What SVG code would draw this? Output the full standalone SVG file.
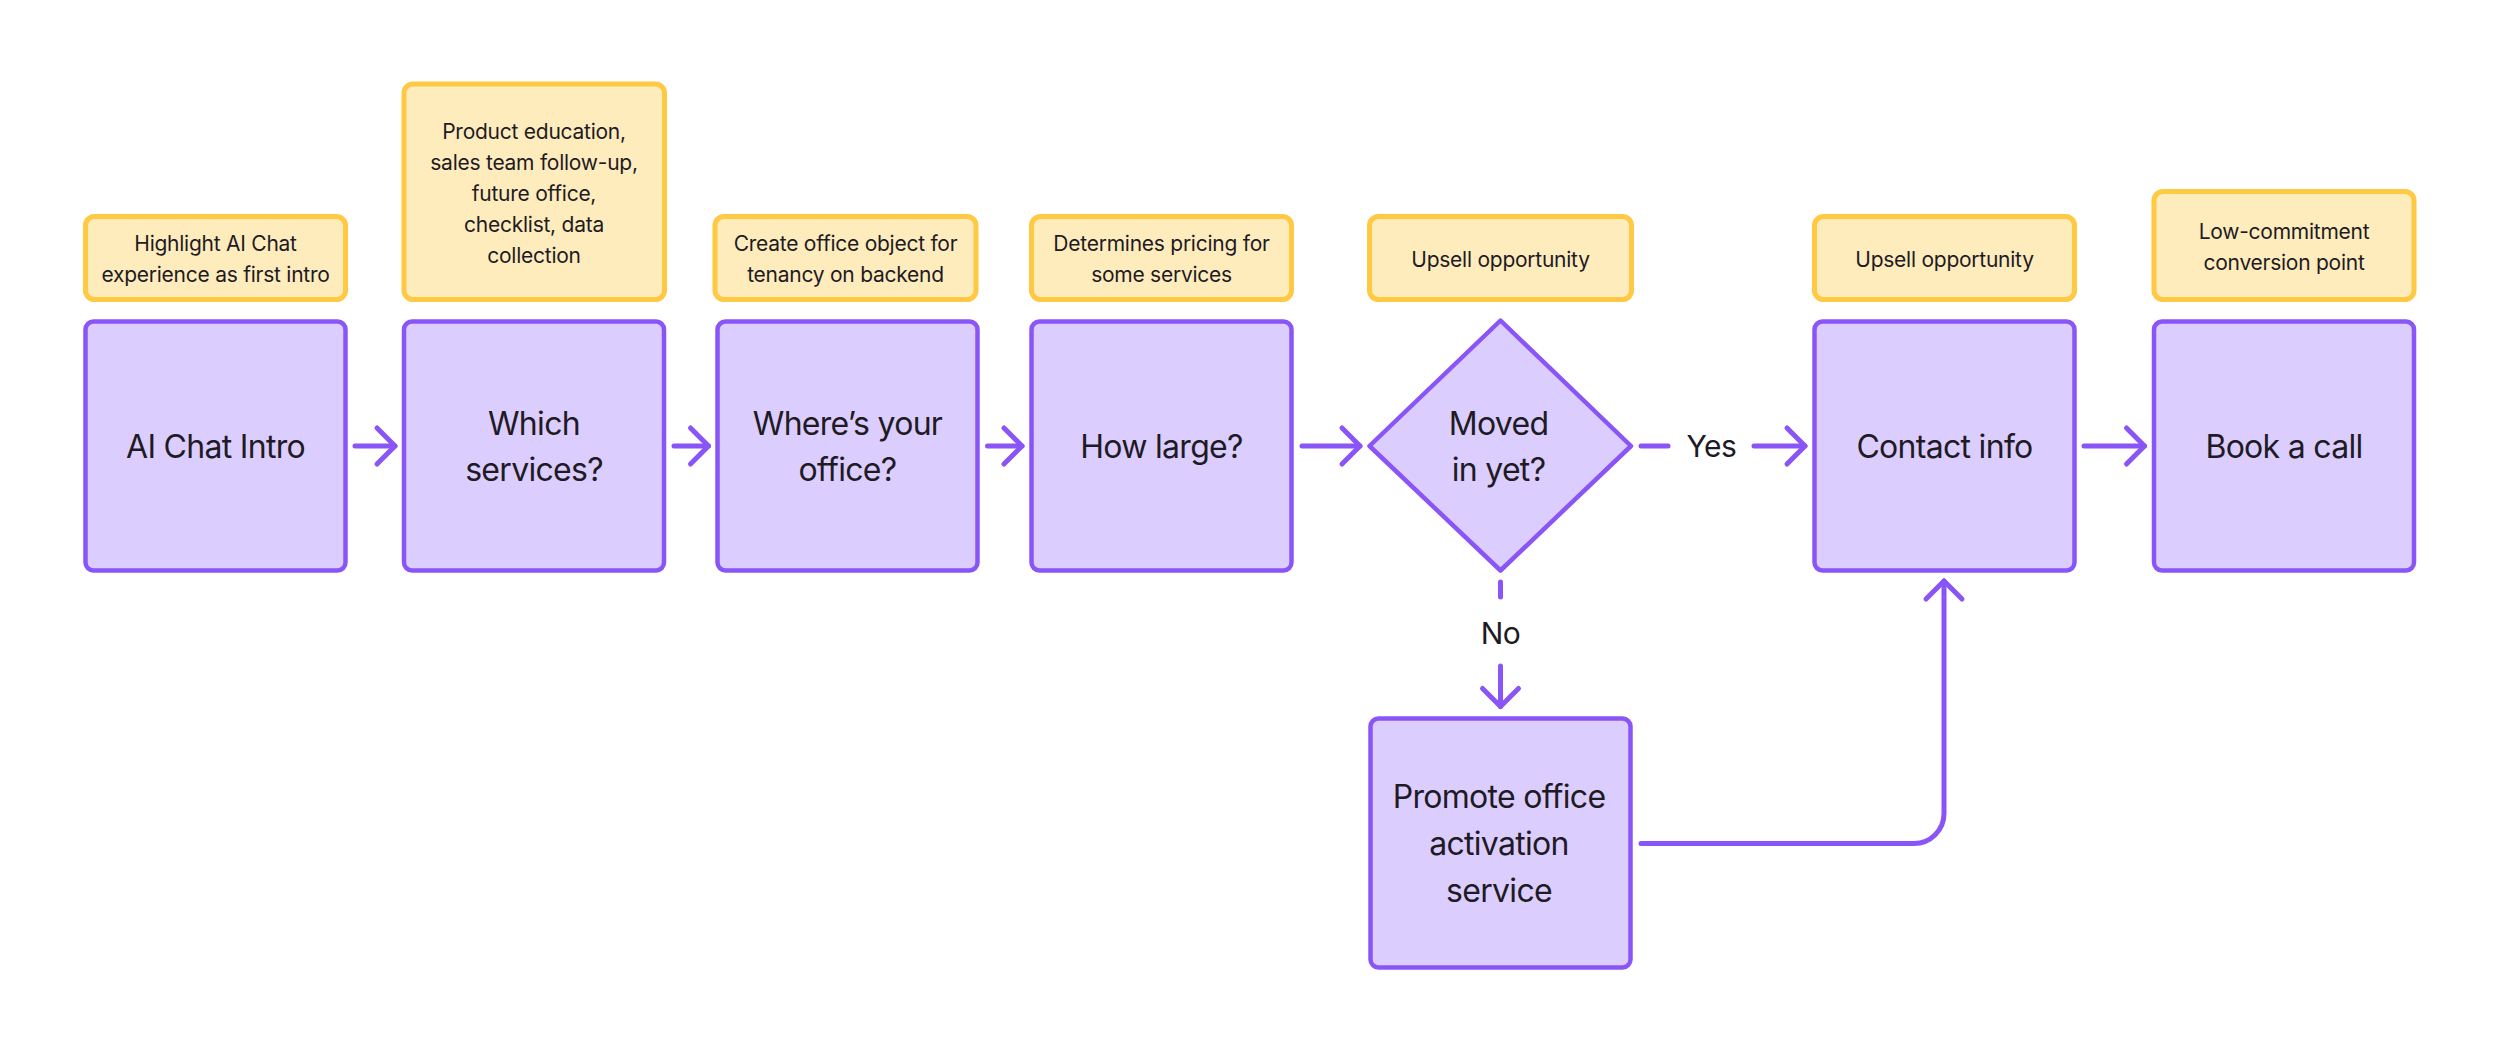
<svg xmlns="http://www.w3.org/2000/svg" width="2500" height="1053" viewBox="0 0 2500 1053">
  <defs>
    <style>
      .node { fill: #DCCDFF; stroke: #8A55F7; stroke-width: 4.5; }
      .note { fill: #FFECBD; stroke: #FFC943; stroke-width: 5; }
      .main { font-family: Inter, "Noto Sans", sans-serif; font-size: 32px; letter-spacing: -0.7px; fill: #1E1B24; text-anchor: middle; }
      .small { font-family: Inter, "Noto Sans", sans-serif; font-size: 21px; letter-spacing: -0.25px; fill: #1E1B24; text-anchor: middle; }
      .label { font-family: Inter, "Noto Sans", sans-serif; font-size: 30px; letter-spacing: -0.5px; fill: #1E1B24; text-anchor: middle; }
      .conn { fill: none; stroke: #8A55F7; stroke-width: 5; stroke-linecap: round; stroke-linejoin: round; }
    </style>
    <marker id="arrow" markerUnits="userSpaceOnUse" markerWidth="50" markerHeight="50" viewBox="-25 -25 50 50" refX="0" refY="0" orient="auto" overflow="visible">
      <path d="M-18,-18 L0,0 L-18,18" fill="none" stroke="#8A55F7" stroke-width="5" stroke-linecap="round" stroke-linejoin="round"/>
    </marker>
  </defs>
  <rect width="2500" height="1053" fill="#FFFFFF"/>

  <g id="notes">
    <g id="note-ai-chat">
      <rect class="note" x="85.5" y="216.5" width="260" height="83" rx="9"/>
      <text class="small" x="215.5" y="250.5">Highlight AI Chat</text>
      <text class="small" x="215.5" y="281.5">experience as first intro</text>
    </g>
    <g id="note-services">
      <rect class="note" x="404" y="84" width="260.5" height="215.5" rx="9"/>
      <text class="small" x="534" y="138.5">Product education,</text>
      <text class="small" x="534" y="169.5">sales team follow-up,</text>
      <text class="small" x="534" y="200.5">future office,</text>
      <text class="small" x="534" y="231.5">checklist, data</text>
      <text class="small" x="534" y="262.5">collection</text>
    </g>
    <g id="note-office">
      <rect class="note" x="715" y="216.5" width="261" height="83" rx="9"/>
      <text class="small" x="845.5" y="250.5">Create office object for</text>
      <text class="small" x="845.5" y="281.5">tenancy on backend</text>
    </g>
    <g id="note-large">
      <rect class="note" x="1031.5" y="216.5" width="260" height="83" rx="9"/>
      <text class="small" x="1161.5" y="250.5">Determines pricing for</text>
      <text class="small" x="1161.5" y="281.5">some services</text>
    </g>
    <g id="note-moved">
      <rect class="note" x="1369.5" y="216.5" width="262" height="83" rx="9"/>
      <text class="small" x="1500.5" y="266.5">Upsell opportunity</text>
    </g>
    <g id="note-contact">
      <rect class="note" x="1814.5" y="216.5" width="260" height="83" rx="9"/>
      <text class="small" x="1944.5" y="266.5">Upsell opportunity</text>
    </g>
    <g id="note-book">
      <rect class="note" x="2154" y="191.5" width="260" height="108" rx="9"/>
      <text class="small" x="2284" y="239">Low-commitment</text>
      <text class="small" x="2284" y="270">conversion point</text>
    </g>
  </g>

  <g id="connectors">
    <path class="conn" d="M355,446 H395" marker-end="url(#arrow)"/>
    <path class="conn" d="M674,446 H708.5" marker-end="url(#arrow)"/>
    <path class="conn" d="M987.5,446 H1022" marker-end="url(#arrow)"/>
    <path class="conn" d="M1302,446 H1360" marker-end="url(#arrow)"/>
    <path class="conn" d="M1641,446 H1668"/>
    <path class="conn" d="M1754,446 H1805" marker-end="url(#arrow)"/>
    <path class="conn" d="M2084,446 H2144.5" marker-end="url(#arrow)"/>
    <path class="conn" d="M1500.5,582 V597"/>
    <path class="conn" d="M1500.5,666 V706.5" marker-end="url(#arrow)"/>
    <path class="conn" d="M1641,843.5 H1914 A30,30 0 0 0 1944,813.5 V581" marker-end="url(#arrow)"/>
    <text class="label" x="1711.5" y="456.5">Yes</text>
    <text class="label" x="1500.5" y="643.5">No</text>
  </g>

  <g id="node-ai-chat-intro">
    <rect class="node" x="85.5" y="321.5" width="260" height="249" rx="8"/>
    <text class="main" x="215.5" y="457.5">AI Chat Intro</text>
  </g>
  <g id="node-which-services">
    <rect class="node" x="404" y="321.5" width="260" height="249" rx="8"/>
    <text class="main" x="534" y="434.5">Which</text>
    <text class="main" x="534" y="481">services?</text>
  </g>
  <g id="node-where-office">
    <rect class="node" x="717.5" y="321.5" width="260" height="249" rx="8"/>
    <text class="main" x="847.5" y="434.5">Where’s your</text>
    <text class="main" x="847.5" y="481">office?</text>
  </g>
  <g id="node-how-large">
    <rect class="node" x="1031.5" y="321.5" width="260" height="249" rx="8"/>
    <text class="main" x="1161.5" y="457.5">How large?</text>
  </g>
  <g id="node-moved-in">
    <path class="node" stroke-linejoin="round" d="M1369.5,446 L1500.5,320.5 L1631,446 L1500.5,570.5 Z"/>
    <text class="main" x="1498.5" y="434.5">Moved</text>
    <text class="main" x="1498.5" y="481">in yet?</text>
  </g>
  <g id="node-contact-info">
    <rect class="node" x="1814.5" y="321.5" width="260" height="249" rx="8"/>
    <text class="main" x="1944.5" y="457.5">Contact info</text>
  </g>
  <g id="node-book-call">
    <rect class="node" x="2154" y="321.5" width="260" height="249" rx="8"/>
    <text class="main" x="2284" y="457.5">Book a call</text>
  </g>
  <g id="node-promote">
    <rect class="node" x="1370.5" y="718.5" width="260" height="249" rx="8"/>
    <text class="main" x="1499" y="807.5">Promote office</text>
    <text class="main" x="1499" y="855">activation</text>
    <text class="main" x="1499" y="901.5">service</text>
  </g>
</svg>
